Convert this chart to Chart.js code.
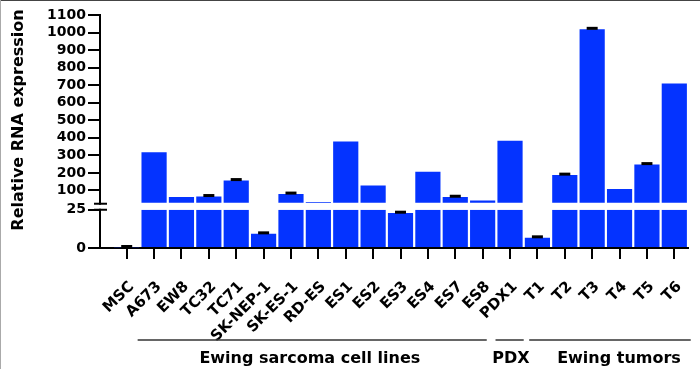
<!DOCTYPE html>
<html>
<head>
<meta charset="utf-8">
<script src="https://cdn.jsdelivr.net/npm/chart.js@4.4.1/dist/chart.umd.min.js"></script>
<style>
  html, body { margin: 0; padding: 0; background: #fff; }
  canvas { display: block; }
</style>
</head>
<body>
<canvas id="chart" width="700" height="369"></canvas>
<script>
// --- data ---
const categories = ['MSC', 'A673', 'EW8', 'TC32', 'TC71', 'SK-NEP-1', 'SK-ES-1', 'RD-ES', 'ES1', 'ES2',
    'ES3', 'ES4', 'ES7', 'ES8', 'PDX1', 'T1', 'T2', 'T3', 'T4', 'T5', 'T6'];
const expression = [0.5, 318, 62, 66, 157, 9.3, 80, 34, 379, 128, 22.8, 206, 62, 43, 383, 6.7, 188, 1019, 108, 248, 709];
const errors = [0.5, 0, 0, 5, 5, 0.6, 5, 0, 0, 0, 0.6, 0, 5, 0, 0, 0.6, 5, 5, 0, 5, 0];
const upperTicks = [100, 200, 300, 400, 500, 600, 700, 800, 900, 1000, 1100];
const lowerTicks = [0, 25];
const groupNames = ['Ewing sarcoma cell lines', 'PDX', 'Ewing tumors'];
const groupFrom = [0.4, 13.47, 14.7];
const groupTo = [13.15, 14.5, 20.6];
const groupLabelAt = [6.69, 14.03, 17.98];

const lowerMax = 25;   // top of the lower segment
const upperStart = 30; // where the upper segment bars start

const barBlue = '#0433ff';
const font = 'DejaVu Sans';

const lowerData = expression.map((v, i) => ({ x: i, y: Math.min(v, lowerMax) }));
const upperData = expression.map((v, i) => ({ x: i, y: v > upperStart ? [upperStart, v] : null }));

// error caps, axis break, x tick marks, y title and group brackets
const extras = {
    id: 'extras',
    afterDatasetsDraw(chart) {
        const ctx = chart.ctx;
        const x = chart.scales.x;
        ctx.save();
        ctx.strokeStyle = '#000';
        ctx.lineWidth = 3;
        expression.forEach((v, i) => {
            if (!errors[i]) return;
            const s = v > upperStart ? chart.scales.yUp : chart.scales.yLow;
            const px = x.getPixelForValue(i);
            const top = s.getPixelForValue(v + errors[i]);
            ctx.beginPath();
            ctx.moveTo(px - 5.5, top);
            ctx.lineTo(px + 5.5, top);
            ctx.stroke();
        });
        ctx.restore();
    },
    afterDraw(chart) {
        const ctx = chart.ctx;
        const area = chart.chartArea;
        const up = chart.scales.yUp;
        const low = chart.scales.yLow;
        const x = chart.scales.x;
        ctx.save();

        // x tick marks
        ctx.strokeStyle = '#000';
        ctx.lineWidth = 2;
        categories.forEach((_, i) => {
            const px = Math.round(x.getPixelForValue(i));
            ctx.beginPath();
            ctx.moveTo(px, area.bottom);
            ctx.lineTo(px, area.bottom + 11);
            ctx.stroke();
        });

        // axis break
        const b1 = up.getPixelForValue(upperStart) + 1;
        const b2 = low.top;
        ctx.fillStyle = '#fff';
        ctx.fillRect(area.left - 2, b1 + 1, 4, b2 - b1 - 2);
        [b1, b2].forEach(y => {
            ctx.beginPath();
            ctx.moveTo(area.left - 6, y);
            ctx.lineTo(area.left + 7, y);
            ctx.stroke();
        });

        // y title
        ctx.fillStyle = '#000';
        ctx.font = 'bold 16px "' + font + '"';
        ctx.textAlign = 'center';
        ctx.textBaseline = 'middle';
        ctx.translate(19, 120);
        ctx.rotate(-Math.PI / 2);
        ctx.fillText('Relative RNA expression', 0, 0);
        ctx.setTransform(1, 0, 0, 1, 0, 0);

        // group brackets
        const lineY = area.bottom + 92;
        ctx.strokeStyle = '#333';
        ctx.lineWidth = 1.5;
        groupNames.forEach((name, g) => {
            const x1 = x.getPixelForValue(groupFrom[g]);
            const x2 = x.getPixelForValue(groupTo[g]);
            ctx.beginPath();
            ctx.moveTo(x1, lineY);
            ctx.lineTo(x2, lineY);
            ctx.stroke();
            ctx.fillText(name, x.getPixelForValue(groupLabelAt[g]), lineY + 19);
        });

        // frame edges of the figure
        ctx.fillStyle = '#444';
        ctx.fillRect(0, 0, chart.width, 1);
        ctx.fillStyle = '#aaa';
        ctx.fillRect(0, 0, 1, chart.height);
        ctx.restore();
    }
};

const yTicks = {
    autoSkip: false,
    padding: 2,
    color: '#000',
    font: { family: font, size: 14, weight: 'bold' },
    callback: v => String(v)
};

const ctx = document.getElementById('chart').getContext('2d');
new Chart(ctx, {
    type: 'bar',
    data: {
        datasets: [{
            data: lowerData,
            yAxisID: 'yLow',
            backgroundColor: barBlue,
            grouped: false,
            barPercentage: 0.92,
            categoryPercentage: 1
        }, {
            data: upperData,
            yAxisID: 'yUp',
            backgroundColor: barBlue,
            grouped: false,
            barPercentage: 0.92,
            categoryPercentage: 1
        }]
    },
    options: {
        responsive: false,
        animation: false,
        layout: { padding: { left: 28, right: 12, top: 15, bottom: 0 } },
        plugins: { legend: { display: false }, tooltip: { enabled: false } },
        scales: {
            x: {
                type: 'linear',
                offset: false,
                min: -0.975,
                max: 20.5,
                afterBuildTicks: s => { s.ticks = categories.map((_, i) => ({ value: i })); },
                afterFit: s => {
                    s.height = 121;
                    s.paddingLeft = 0;
                    s.paddingRight = 0;
                },
                grid: { offset: false, drawOnChartArea: false, color: '#000', lineWidth: 2, tickLength: 11 },
                border: { color: '#000', width: 2 },
                ticks: {
                    autoSkip: false,
                    minRotation: 45,
                    maxRotation: 45,
                    padding: 19,
                    labelOffset: 5,
                    color: '#000',
                    font: { family: font, size: 15, weight: 'bold' },
                    callback: v => categories[v]
                }
            },
            yLow: {
                type: 'linear',
                position: 'left',
                stack: 'y',
                stackWeight: 38.3,
                min: 0,
                max: lowerMax,
                afterBuildTicks: s => { s.ticks = lowerTicks.map(v => ({ value: v })); },
                afterFit: s => { s.width = 72; },
                grid: { drawOnChartArea: false, color: '#000', lineWidth: 2, tickLength: 12 },
                border: { color: '#000', width: 2 },
                ticks: yTicks
            },
            yUp: {
                type: 'linear',
                position: 'left',
                stack: 'y',
                stackWeight: 195,
                min: -10,
                max: 1100,
                afterBuildTicks: s => { s.ticks = upperTicks.map(v => ({ value: v })); },
                afterFit: s => { s.width = 72; },
                grid: { drawOnChartArea: false, color: '#000', lineWidth: 2, tickLength: 12 },
                border: { color: '#000', width: 2 },
                ticks: yTicks
            }
        }
    },
    plugins: [extras]
});
</script>
</body>
</html>
